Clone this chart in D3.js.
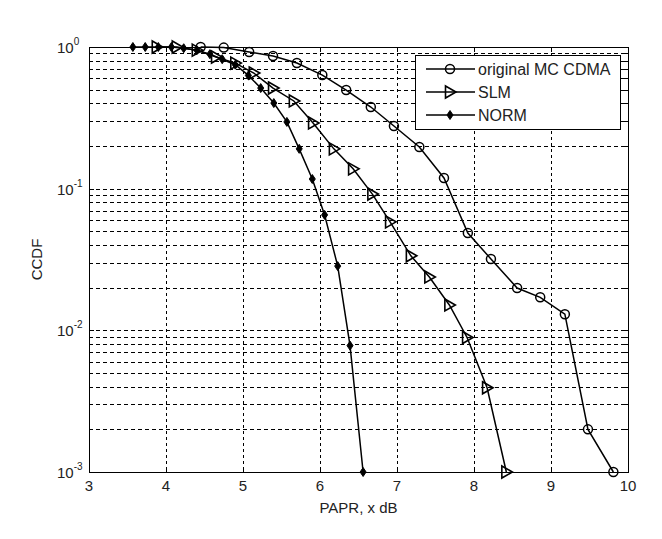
<!DOCTYPE html>
<html>
<head>
<meta charset="utf-8">
<title>CCDF of PAPR</title>
<script src="https://d3js.org/d3.v7.min.js"></script>
<style>
  body { margin: 0; background: #fff; }
  svg text { font-family: "Liberation Sans", Arial, sans-serif; fill: #222; }
</style>
</head>
<body>
<div id="chart"></div>
<script>
// data
var origX = [4.45, 4.75, 5.08, 5.39, 5.70, 6.03, 6.34, 6.66, 6.96, 7.29, 7.61, 7.92, 8.22, 8.56, 8.86, 9.18, 9.48, 9.81];
var origY = [1.0, 0.99, 0.922, 0.864, 0.771, 0.634, 0.497, 0.377, 0.277, 0.197, 0.119, 0.0486, 0.0319, 0.0199, 0.0171, 0.0130, 0.0020, 0.0010];

var slmX = [3.88, 4.14, 4.40, 4.65, 4.90, 5.14, 5.39, 5.66, 5.91, 6.18, 6.43, 6.68, 6.91, 7.18, 7.42, 7.68, 7.91, 8.17, 8.42];
var slmY = [1.0, 1.0, 0.95, 0.85, 0.77, 0.655, 0.513, 0.416, 0.291, 0.191, 0.138, 0.0916, 0.0583, 0.0336, 0.0238, 0.0151, 0.0089, 0.00393, 0.0010];

var normX = [3.57, 3.73, 3.90, 4.07, 4.23, 4.40, 4.57, 4.73, 4.90, 5.07, 5.23, 5.40, 5.57, 5.73, 5.90, 6.06, 6.23, 6.39, 6.56];
var normY = [1.0, 1.0, 1.0, 1.0, 0.98, 0.95, 0.89, 0.82, 0.75, 0.63, 0.513, 0.402, 0.296, 0.191, 0.117, 0.0653, 0.0284, 0.0078, 0.0010];

var xTicks = [3, 4, 5, 6, 7, 8, 9, 10];
var yMajor = [1e-3, 1e-2, 1e-1, 1];
var seriesNames = ["original MC CDMA", "SLM", "NORM"];

var W = 662, H = 539;
var margin = {top: 47, right: 34, bottom: 67, left: 89};

var svg = d3.select("#chart").append("svg")
    .attr("width", W)
    .attr("height", H);

var x = d3.scaleLinear().domain([3, 10]).range([margin.left, W - margin.right]);
var y = d3.scaleLog().domain([1e-3, 1]).range([H - margin.bottom, margin.top]);

var x0 = x.range()[0], x1 = x.range()[1];
var yb = y.range()[0], yt = y.range()[1];

// grid
var yAll = y.ticks();
svg.append("g").selectAll("line")
  .data(yAll.filter(function(d) { return d > 1e-3 && d < 1; }))
  .enter().append("line")
    .attr("x1", x0).attr("x2", x1)
    .attr("y1", function(d) { return Math.round(y(d)) + 0.5; })
    .attr("y2", function(d) { return Math.round(y(d)) + 0.5; })
    .attr("stroke", "#000").attr("stroke-width", 1)
    .attr("stroke-dasharray", "4,3");
svg.append("g").selectAll("line")
  .data(xTicks.slice(1, -1))
  .enter().append("line")
    .attr("x1", function(d) { return Math.round(x(d)) + 0.5; })
    .attr("x2", function(d) { return Math.round(x(d)) + 0.5; })
    .attr("y1", yt).attr("y2", yb)
    .attr("stroke", "#000").attr("stroke-width", 1)
    .attr("stroke-dasharray", "3,3");

// ticks (inward, both sides)
var tk = svg.append("g").attr("stroke", "#000").attr("stroke-width", 1);
xTicks.forEach(function(d) {
  var px = Math.round(x(d)) + 0.5;
  tk.append("line").attr("x1", px).attr("x2", px).attr("y1", yb).attr("y2", yb - 5);
  tk.append("line").attr("x1", px).attr("x2", px).attr("y1", yt).attr("y2", yt + 5);
});
yAll.forEach(function(d) {
  var py = Math.round(y(d)) + 0.5;
  var len = yMajor.indexOf(d) >= 0 ? 5 : 3;
  tk.append("line").attr("x1", x0).attr("x2", x0 + len).attr("y1", py).attr("y2", py);
  tk.append("line").attr("x1", x1).attr("x2", x1 - len).attr("y1", py).attr("y2", py);
});

// frame
svg.append("rect")
  .attr("x", x0 + 0.5).attr("y", yt + 0.5)
  .attr("width", x1 - x0).attr("height", yb - yt)
  .attr("fill", "none").attr("stroke", "#000").attr("stroke-width", 1);

// tick labels
svg.append("g").selectAll("text")
  .data(xTicks).enter().append("text")
    .attr("x", function(d) { return x(d); })
    .attr("y", yb + 19)
    .attr("text-anchor", "middle")
    .style("font-size", "15px")
    .text(function(d) { return d; });

var yl = svg.append("g").selectAll("text")
  .data(yMajor).enter().append("text")
    .attr("x", x0 - 32)
    .attr("y", function(d) { return y(d) + 6; })
    .attr("text-anchor", "start")
    .style("font-size", "15px");
yl.append("tspan").text("10");
yl.append("tspan")
  .attr("dy", -8)
  .style("font-size", "10px")
  .text(function(d) { return Math.round(Math.log10(d)); });

// axis titles
svg.append("text")
  .attr("x", (x0 + x1) / 2)
  .attr("y", yb + 41)
  .attr("text-anchor", "middle")
  .style("font-size", "15px")
  .text("PAPR, x dB");
svg.append("text")
  .attr("transform", "translate(42," + ((yt + yb) / 2) + ") rotate(-90)")
  .attr("text-anchor", "middle")
  .style("font-size", "15px")
  .text("CCDF");

// series
var line = d3.line()
  .x(function(d) { return x(d[0]); })
  .y(function(d) { return y(d[1]); });

function pairs(xs, ys) { return xs.map(function(v, i) { return [v, ys[i]]; }); }

var series = [
  {name: seriesNames[0], data: pairs(origX, origY), marker: "circle"},
  {name: seriesNames[1], data: pairs(slmX, slmY), marker: "triangle"},
  {name: seriesNames[2], data: pairs(normX, normY), marker: "diamond"}
];

function drawMarker(g, type, cx, cy) {
  if (type === "circle") {
    g.append("circle").attr("cx", cx).attr("cy", cy).attr("r", 4.5)
      .attr("fill", "none").attr("stroke", "#000").attr("stroke-width", 1.5);
  } else if (type === "triangle") {
    g.append("path")
      .attr("d", "M" + (cx - 4.5) + "," + (cy - 6) + "L" + (cx + 6) + "," + cy + "L" + (cx - 4.5) + "," + (cy + 6) + "Z")
      .attr("fill", "none").attr("stroke", "#000").attr("stroke-width", 1.6);
  } else {
    g.append("path")
      .attr("d", "M" + cx + "," + (cy - 4.5) + "L" + (cx + 3) + "," + cy + "L" + cx + "," + (cy + 4.5) + "L" + (cx - 3) + "," + cy + "Z")
      .attr("fill", "#000").attr("stroke", "#000").attr("stroke-width", 1);
  }
}

series.forEach(function(s) {
  var g = svg.append("g");
  g.append("path")
    .datum(s.data)
    .attr("fill", "none")
    .attr("stroke", "#000")
    .attr("stroke-width", 1.5)
    .attr("d", line);
  s.data.forEach(function(d) { drawMarker(g, s.marker, x(d[0]), y(d[1])); });
});

// legend
var lg = svg.append("g");
lg.append("rect")
  .attr("x", 415.5).attr("y", 55.5)
  .attr("width", 205).attr("height", 74)
  .attr("fill", "#fff").attr("stroke", "#000").attr("stroke-width", 1);
series.forEach(function(s, i) {
  var ly = 69 + i * 23;
  lg.append("line")
    .attr("x1", 426).attr("x2", 475).attr("y1", ly).attr("y2", ly)
    .attr("stroke", "#000").attr("stroke-width", 1.5);
  drawMarker(lg, s.marker, 450, ly);
  lg.append("text")
    .attr("x", 478).attr("y", ly + 6)
    .style("font-size", "16px")
    .text(s.name);
});
</script>
</body>
</html>
